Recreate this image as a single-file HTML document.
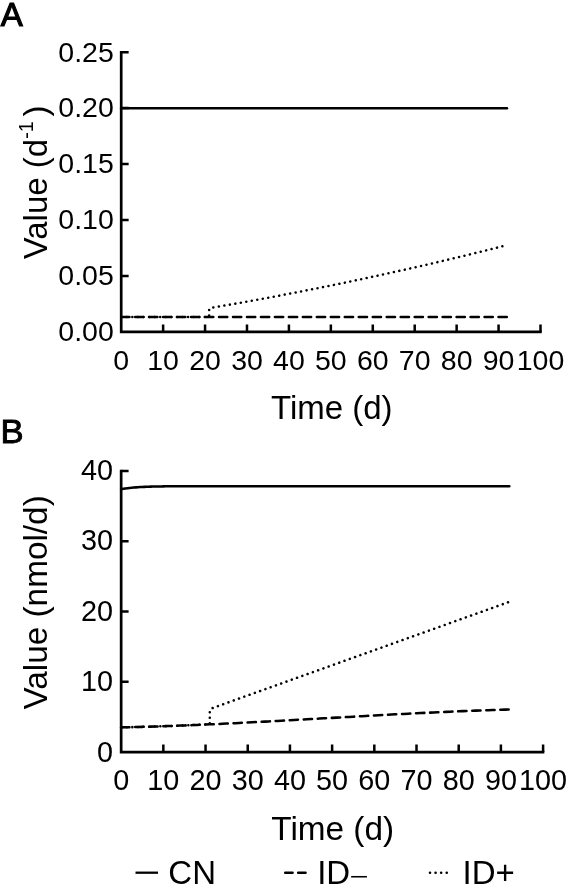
<!DOCTYPE html>
<html lang="en"><head><meta charset="utf-8"><title>Figure</title>
<style>html,body{margin:0;padding:0;background:#fff}body{width:568px;height:887px;overflow:hidden}svg{display:block}text{font-family:"Liberation Sans",Arial,Helvetica,sans-serif;fill:#000}</style>
</head><body>
<svg width="568" height="887" viewBox="0 0 568 887">
<rect width="568" height="887" fill="#fff"/>
<path d="M121.20 50.90V331.85H541.75" fill="none" stroke="#000" stroke-width="2.70" stroke-linejoin="miter"/>
<path d="M163.13 331.85v-7.45M205.06 331.85v-7.45M246.99 331.85v-7.45M288.92 331.85v-7.45M330.85 331.85v-7.45M372.78 331.85v-7.45M414.71 331.85v-7.45M456.64 331.85v-7.45M498.57 331.85v-7.45M540.50 331.85v-7.45M121.20 275.91h7.45M121.20 219.97h7.45M121.20 164.03h7.45M121.20 108.09h7.45M121.20 52.15h7.45" fill="none" stroke="#000" stroke-width="2.50"/>
<text x="121.20" y="370.00" font-size="28.50" text-anchor="middle">0</text>
<text x="163.13" y="370.00" font-size="28.50" text-anchor="middle">10</text>
<text x="205.06" y="370.00" font-size="28.50" text-anchor="middle">20</text>
<text x="246.99" y="370.00" font-size="28.50" text-anchor="middle">30</text>
<text x="288.92" y="370.00" font-size="28.50" text-anchor="middle">40</text>
<text x="330.85" y="370.00" font-size="28.50" text-anchor="middle">50</text>
<text x="372.78" y="370.00" font-size="28.50" text-anchor="middle">60</text>
<text x="414.71" y="370.00" font-size="28.50" text-anchor="middle">70</text>
<text x="456.64" y="370.00" font-size="28.50" text-anchor="middle">80</text>
<text x="498.57" y="370.00" font-size="28.50" text-anchor="middle">90</text>
<text x="540.50" y="370.00" font-size="28.50" text-anchor="middle">100</text>
<text x="113.80" y="341.20" font-size="28.50" text-anchor="end">0.00</text>
<text x="113.80" y="285.26" font-size="28.50" text-anchor="end">0.05</text>
<text x="113.80" y="229.32" font-size="28.50" text-anchor="end">0.10</text>
<text x="113.80" y="173.38" font-size="28.50" text-anchor="end">0.15</text>
<text x="113.80" y="117.44" font-size="28.50" text-anchor="end">0.20</text>
<text x="113.80" y="61.50" font-size="28.50" text-anchor="end">0.25</text>
<path d="M121.15 469.65V752.05H544.35" fill="none" stroke="#000" stroke-width="2.70" stroke-linejoin="miter"/>
<path d="M163.34 752.05v-7.45M205.54 752.05v-7.45M247.74 752.05v-7.45M289.93 752.05v-7.45M332.12 752.05v-7.45M374.32 752.05v-7.45M416.51 752.05v-7.45M458.71 752.05v-7.45M500.90 752.05v-7.45M543.10 752.05v-7.45M121.15 681.76h7.45M121.15 611.47h7.45M121.15 541.19h7.45M121.15 470.90h7.45" fill="none" stroke="#000" stroke-width="2.50"/>
<text x="121.15" y="790.00" font-size="28.80" text-anchor="middle">0</text>
<text x="163.34" y="790.00" font-size="28.80" text-anchor="middle">10</text>
<text x="205.54" y="790.00" font-size="28.80" text-anchor="middle">20</text>
<text x="247.74" y="790.00" font-size="28.80" text-anchor="middle">30</text>
<text x="289.93" y="790.00" font-size="28.80" text-anchor="middle">40</text>
<text x="332.12" y="790.00" font-size="28.80" text-anchor="middle">50</text>
<text x="374.32" y="790.00" font-size="28.80" text-anchor="middle">60</text>
<text x="416.51" y="790.00" font-size="28.80" text-anchor="middle">70</text>
<text x="458.71" y="790.00" font-size="28.80" text-anchor="middle">80</text>
<text x="500.90" y="790.00" font-size="28.80" text-anchor="middle">90</text>
<text x="543.10" y="790.00" font-size="28.80" text-anchor="middle">100</text>
<text x="113.00" y="762.00" font-size="28.80" text-anchor="end">0</text>
<text x="113.00" y="691.46" font-size="28.80" text-anchor="end">10</text>
<text x="113.00" y="620.92" font-size="28.80" text-anchor="end">20</text>
<text x="113.00" y="550.39" font-size="28.80" text-anchor="end">30</text>
<text x="113.00" y="479.85" font-size="28.80" text-anchor="end">40</text>
<text x="331.8" y="419.2" font-size="33.00" text-anchor="middle">Time (d)</text>
<text x="332.7" y="840.4" font-size="33.33" text-anchor="middle">Time (d)</text>
<text transform="translate(47.2 182.4) rotate(-90)" font-size="33.00" text-anchor="middle">Value (d<tspan font-size="19.80" dy="-14.3">-1</tspan><tspan dy="14.3" dx="4.8">)</tspan></text>
<text transform="translate(47.2 602.4) rotate(-90)" font-size="33.35" text-anchor="middle">Value (nmol/d)</text>
<text x="0.75" y="25.9" font-size="33.00" stroke="#000" stroke-width="1.1" stroke-linejoin="miter">A</text>
<text transform="translate(0.4 442.8) scale(1.05 1)" font-size="33.00" stroke="#000" stroke-width="0.9" stroke-linejoin="miter">B</text>
<path d="M121.20 108.15L506.96 108.15" fill="none" stroke="#000" stroke-width="2.55" stroke-linecap="round" stroke-linejoin="round"/>
<path d="M121.20 316.90L506.96 316.90" fill="none" stroke="#000" stroke-width="2.55" stroke-linecap="round" stroke-linejoin="round" stroke-dasharray="8.25 5.725"/>
<path d="M121.20 316.90L209.10 316.90L209.15 309.90L209.55 308.60L210.50 307.85L212.76 307.57L217.66 306.73L222.57 305.89L227.47 305.04L232.37 304.18L237.28 303.32L242.18 302.45L247.08 301.57L251.99 300.68L256.89 299.79L261.79 298.89L266.70 297.99L271.60 297.08L276.50 296.16L281.41 295.23L286.31 294.30L291.21 293.36L296.12 292.41L301.02 291.45L305.92 290.49L310.83 289.53L315.73 288.55L320.63 287.57L325.54 286.58L330.44 285.59L335.34 284.58L340.24 283.57L345.15 282.56L350.05 281.53L354.95 280.50L359.86 279.47L364.76 278.42L369.66 277.37L374.57 276.31L379.47 275.25L384.37 274.18L389.28 273.10L394.18 272.01L399.08 270.92L403.99 269.82L408.89 268.71L413.79 267.60L418.70 266.48L423.60 265.35L428.50 264.22L433.41 263.08L438.31 261.93L443.21 260.78L448.12 259.62L453.02 258.45L457.92 257.27L462.83 256.09L467.73 254.90L472.63 253.70L477.54 252.50L482.44 251.29L487.34 250.07L492.25 248.85L497.15 247.62L502.05 246.38L506.96 245.14" fill="none" stroke="#000" stroke-width="2.55" stroke-linecap="round" stroke-linejoin="round" stroke-dasharray="0.01 5.565"/>
<path d="M121.15 489.17L123.26 488.80L125.37 488.48L127.48 488.19L129.59 487.94L131.70 487.72L133.81 487.52L135.92 487.36L138.03 487.21L140.14 487.08L142.25 486.96L144.36 486.86L146.47 486.78L148.58 486.70L150.69 486.63L152.80 486.57L154.91 486.52L157.02 486.48L159.13 486.44L161.24 486.40L163.34 486.37L165.45 486.34L167.56 486.32L169.67 486.30L171.78 486.28L173.89 486.27L176.00 486.25L178.11 486.24L180.22 486.23L182.33 486.22L184.44 486.21L186.55 486.20L188.66 486.20L190.77 486.19L192.88 486.19L194.99 486.18L197.10 486.18L199.21 486.18L201.32 486.17L203.43 486.17L205.54 486.17L207.65 486.17L209.76 486.16L211.87 486.16L213.98 486.16L216.09 486.16L218.20 486.16L220.31 486.16L222.42 486.16L224.53 486.16L226.64 486.16L228.75 486.16L230.86 486.16L232.97 486.16L235.08 486.15L237.19 486.15L239.30 486.15L241.41 486.15L243.52 486.15L245.63 486.15L247.74 486.15L249.84 486.15L251.95 486.15L254.06 486.15L256.17 486.15L258.28 486.15L260.39 486.15L262.50 486.15L264.61 486.15L266.72 486.15L268.83 486.15L270.94 486.15L273.05 486.15L275.16 486.15L277.27 486.15L279.38 486.15L281.49 486.15L283.60 486.15L285.71 486.15L287.82 486.15L289.93 486.15L292.04 486.15L294.15 486.15L296.26 486.15L298.37 486.15L300.48 486.15L302.59 486.15L304.70 486.15L306.81 486.15L308.92 486.15L311.03 486.15L313.14 486.15L315.25 486.15L317.36 486.15L319.47 486.15L321.58 486.15L323.69 486.15L325.80 486.15L327.91 486.15L330.02 486.15L332.12 486.15L334.23 486.15L336.34 486.15L338.45 486.15L340.56 486.15L342.67 486.15L344.78 486.15L346.89 486.15L349.00 486.15L351.11 486.15L353.22 486.15L355.33 486.15L357.44 486.15L359.55 486.15L361.66 486.15L363.77 486.15L365.88 486.15L367.99 486.15L370.10 486.15L372.21 486.15L374.32 486.15L376.43 486.15L378.54 486.15L380.65 486.15L382.76 486.15L384.87 486.15L386.98 486.15L389.09 486.15L391.20 486.15L393.31 486.15L395.42 486.15L397.53 486.15L399.64 486.15L401.75 486.15L403.86 486.15L405.97 486.15L408.08 486.15L410.19 486.15L412.30 486.15L414.41 486.15L416.51 486.15L418.62 486.15L420.73 486.15L422.84 486.15L424.95 486.15L427.06 486.15L429.17 486.15L431.28 486.15L433.39 486.15L435.50 486.15L437.61 486.15L439.72 486.15L441.83 486.15L443.94 486.15L446.05 486.15L448.16 486.15L450.27 486.15L452.38 486.15L454.49 486.15L456.60 486.15L458.71 486.15L460.82 486.15L462.93 486.15L465.04 486.15L467.15 486.15L469.26 486.15L471.37 486.15L473.48 486.15L475.59 486.15L477.70 486.15L479.81 486.15L481.92 486.15L484.03 486.15L486.14 486.15L488.25 486.15L490.36 486.15L492.47 486.15L494.58 486.15L496.69 486.15L498.80 486.15L500.90 486.15L503.01 486.15L505.12 486.15L507.23 486.15L509.34 486.15" fill="none" stroke="#000" stroke-width="2.55" stroke-linecap="round" stroke-linejoin="round"/>
<path d="M121.15 727.38L125.37 727.29L129.59 727.19L133.81 727.09L138.03 726.98L142.25 726.86L146.47 726.74L150.69 726.62L154.91 726.49L159.13 726.35L163.34 726.21L167.56 726.06L171.78 725.91L176.00 725.75L180.22 725.59L184.44 725.43L188.66 725.26L192.88 725.09L197.10 724.91L201.32 724.73L205.54 724.54L209.76 724.35L213.98 724.16L218.20 723.97L222.42 723.77L226.64 723.56L230.86 723.36L235.08 723.15L239.30 722.94L243.52 722.73L247.74 722.51L251.95 722.29L256.17 722.07L260.39 721.85L264.61 721.62L268.83 721.40L273.05 721.17L277.27 720.94L281.49 720.71L285.71 720.48L289.93 720.24L294.15 720.01L298.37 719.77L302.59 719.53L306.81 719.29L311.03 719.06L315.25 718.82L319.47 718.58L323.69 718.34L327.91 718.10L332.12 717.86L336.34 717.62L340.56 717.38L344.78 717.14L349.00 716.90L353.22 716.67L357.44 716.43L361.66 716.19L365.88 715.96L370.10 715.72L374.32 715.49L378.54 715.26L382.76 715.03L386.98 714.80L391.20 714.58L395.42 714.35L399.64 714.13L403.86 713.91L408.08 713.69L412.30 713.48L416.51 713.27L420.73 713.06L424.95 712.85L429.17 712.65L433.39 712.45L437.61 712.25L441.83 712.05L446.05 711.86L450.27 711.68L454.49 711.49L458.71 711.31L462.93 711.14L467.15 710.96L471.37 710.80L475.59 710.63L479.81 710.47L484.03 710.32L488.25 710.17L492.47 710.03L496.69 709.89L500.90 709.75L505.12 709.62L509.34 709.50" fill="none" stroke="#000" stroke-width="2.55" stroke-linecap="round" stroke-linejoin="round" stroke-dasharray="8.30 5.76"/>
<path d="M121.15 727.38L125.37 727.29L129.59 727.19L133.81 727.09L138.03 726.98L142.25 726.86L146.47 726.74L150.69 726.62L154.91 726.49L159.13 726.35L163.34 726.21L167.56 726.06L171.78 725.91L176.00 725.75L180.22 725.59L184.44 725.43L188.66 725.26L192.88 725.09L197.10 724.91L201.32 724.73L205.54 724.54L209.78 724.35L209.78 711.80L210.03 710.20L210.58 709.15L211.47 708.40L509.34 601.82" fill="none" stroke="#000" stroke-width="2.55" stroke-linecap="round" stroke-linejoin="round" stroke-dasharray="0.01 5.592"/>
<path d="M135.5 872.7H158" stroke="#000" stroke-width="2.3" fill="none"/>
<text x="168.3" y="883.5" font-size="33.00">CN</text>
<path d="M285.2 872.7H292.6M298.15 872.7H305.55" stroke="#000" stroke-width="2.5" fill="none" stroke-linecap="round"/>
<text x="317.15" y="884.0" font-size="33.00">ID</text>
<text transform="translate(349.5 883.8) scale(0.9875 0.68)" font-size="33">−</text>
<path d="M430 872.7H447.2" stroke="#000" stroke-width="2.6" fill="none" stroke-linecap="round" stroke-dasharray="0.01 5.565"/>
<text x="462.5" y="884.0" font-size="33.00">ID+</text>
</svg></body></html>
